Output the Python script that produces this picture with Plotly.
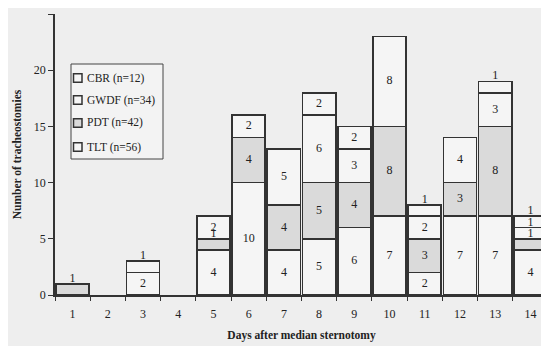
import plotly.graph_objects as go

days = [str(d) for d in range(1, 15)]
series_names = ["TLT (n=56)", "PDT (n=42)", "GWDF (n=34)", "CBR (n=12)"]
TLT = [0, 0, 0, 0, 4, 10, 4, 5, 6, 7, 2, 7, 7, 4]
PDT = [1, 0, 0, 0, 1, 4, 4, 5, 4, 8, 3, 3, 8, 1]
GWDF = [0, 0, 2, 0, 2, 2, 5, 6, 3, 8, 2, 0, 3, 1]
CBR = [0, 0, 1, 0, 0, 0, 0, 2, 2, 0, 1, 4, 1, 1]
y_ticks = [0, 5, 10, 15, 20, 25]

series = [TLT, PDT, GWDF, CBR]
fills = ["#f5f5f5", "#dadada", "#f5f5f5", "#f5f5f5"]
edge = "#333333"
serif = "Liberation Serif"

# figure geometry (page is offset 8px by the browser's body margin)
W, H = 541, 338
ML, MR, MT, MB = 47, 1, 6, 51
PW, PH = W - ML - MR, H - MT - MB


def px(x):
    return (x - ML) / PW


def py(y):
    return (H - MB - y) / PH


fig = go.Figure()
for i, (name, vals) in enumerate(zip(series_names, series)):
    fig.add_trace(go.Bar(
        x=days, y=[v if v else None for v in vals], name=name,
        marker=dict(color=fills[i], line=dict(color=edge, width=1.7)),
        showlegend=False, hoverinfo="skip",
    ))

# segment labels
lx, ly, lt = [], [], []
for j in range(len(days)):
    base = 0
    for vals in series:
        v = vals[j]
        if v:
            top = base + v
            lx.append(days[j])
            ly.append(top + 0.45 if v == 1 else base + v / 2)
            lt.append(str(v))
            base = top
fig.add_trace(go.Scatter(
    x=lx, y=ly, text=lt, mode="text", showlegend=False, hoverinfo="skip",
    textfont=dict(family=serif, size=12, color="#222222"), cliponaxis=False,
))

# legend box (top entry first: CBR, GWDF, PDT, TLT)
shapes = [dict(type="rect", xref="paper", yref="paper",
               x0=px(63), x1=px(155), y0=py(151), y1=py(56),
               line=dict(color="#444444", width=1), fillcolor="#f3f3f3", layer="above")]
annotations = []
entry_y = [70, 92, 115, 139]
for k, idx in enumerate([3, 2, 1, 0]):
    yc = entry_y[k]
    shapes.append(dict(type="rect", xref="paper", yref="paper",
                       x0=px(65.5), x1=px(74), y0=py(yc + 4.2), y1=py(yc - 4.2),
                       line=dict(color=edge, width=1.5), fillcolor=fills[idx], layer="above"))
    annotations.append(dict(xref="paper", yref="paper", x=px(77), y=py(yc),
                            xanchor="left", yanchor="middle", showarrow=False,
                            text=series_names[idx],
                            font=dict(family=serif, size=11.5, color="#222222")))

fig.update_layout(
    width=W, height=H,
    margin=dict(l=ML, r=MR, t=MT, b=MB),
    barmode="stack", bargap=0.06,
    paper_bgcolor="#eeeeee", plot_bgcolor="#eeeeee",
    font=dict(family=serif, size=12, color="#222222"),
    showlegend=False,
    shapes=shapes, annotations=annotations,
    xaxis=dict(
        type="category", range=[-0.5, len(days) - 0.5],
        showline=True, linecolor=edge, linewidth=1.5,
        ticks="outside", tickson="boundaries", ticklen=4, tickcolor=edge,
        showgrid=False, zeroline=False, ticklabelstandoff=7,
        tickfont=dict(family=serif, size=12),
        title=dict(text="<b>Days after median sternotomy</b>",
                   font=dict(family=serif, size=11.5), standoff=11),
    ),
    yaxis=dict(
        range=[0, 25], tickvals=y_ticks, showline=True, linecolor=edge, linewidth=1.5,
        ticks="outside", ticklen=5, tickcolor=edge, showgrid=False, zeroline=False,
        tickfont=dict(family=serif, size=12),
        title=dict(text="<b>Number of tracheostomies</b>",
                   font=dict(family=serif, size=11.5), standoff=10),
    ),
)

fig.write_html("out.html")
